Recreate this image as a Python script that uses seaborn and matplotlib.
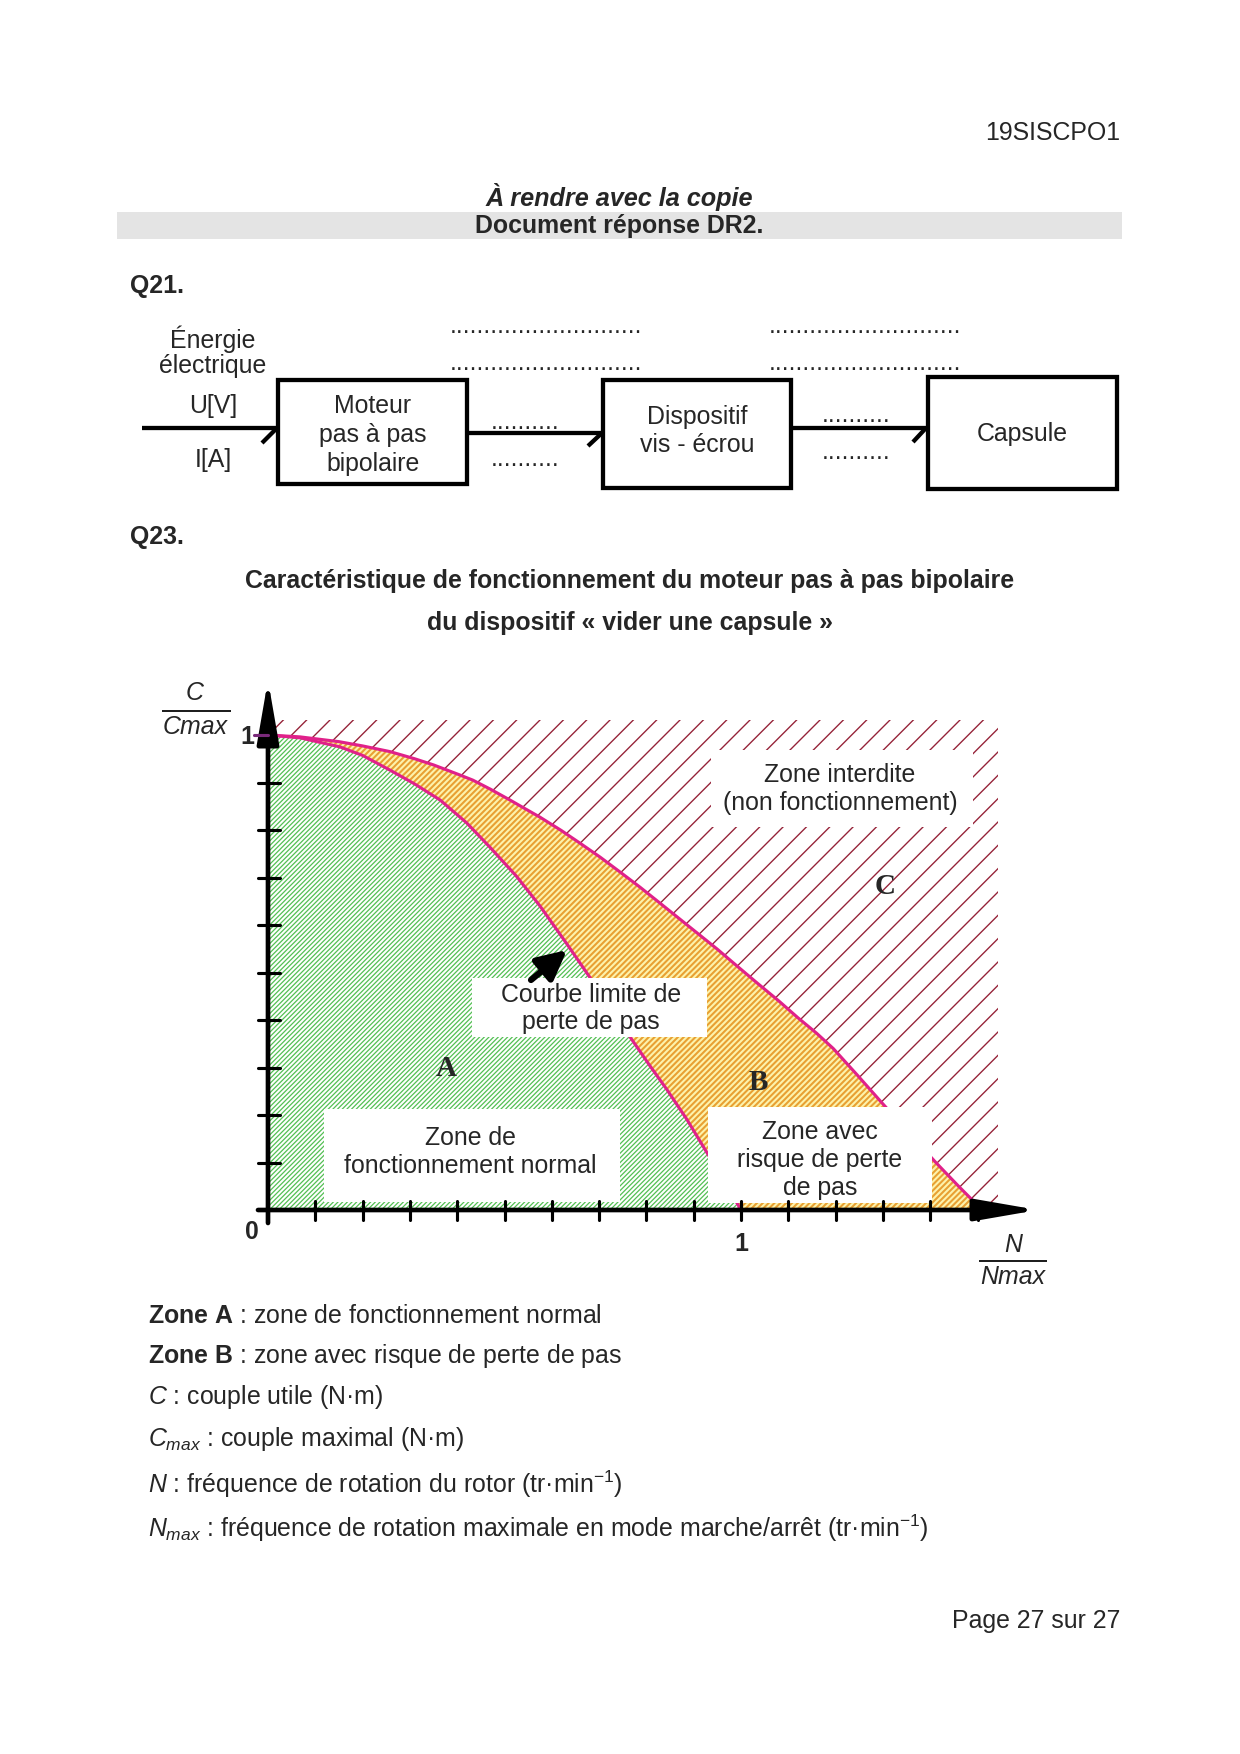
import numpy as np
import matplotlib
matplotlib.use('Agg')
import matplotlib.pyplot as plt
import seaborn as sns
from matplotlib.patches import Rectangle, Polygon
from matplotlib.lines import Line2D

# courbe limite exterieure (frontiere zone B / zone C)  N/Nmax , C/Cmax
n_outer = [0.0, 0.068, 0.15, 0.2, 0.258, 0.31, 0.35, 0.40, 0.433, 0.47, 0.51, 0.545,
           0.575, 0.62, 0.66, 0.702, 0.745, 0.786, 0.825, 0.865, 0.91, 0.95, 0.99,
           1.034, 1.08, 1.12, 1.16, 1.195, 1.245, 1.294, 1.33, 1.36, 1.41, 1.46, 1.51]
c_outer = [1.0, 0.996, 0.986, 0.977, 0.965, 0.95, 0.937, 0.918, 0.905, 0.886, 0.864,
           0.844, 0.827, 0.799, 0.772, 0.743, 0.711, 0.68, 0.649, 0.617, 0.581, 0.549,
           0.515, 0.478, 0.440, 0.405, 0.372, 0.340, 0.285, 0.230, 0.190, 0.157, 0.102,
           0.050, 0.0]

# courbe limite de perte de pas (frontiere zone A / zone B)
n_inner = [0.0, 0.068, 0.152, 0.2, 0.258, 0.31, 0.364, 0.42, 0.469, 0.525, 0.575,
           0.632, 0.681, 0.725, 0.765, 0.805, 0.843, 0.886, 0.926, 0.963, 1.0]
c_inner = [1.0, 0.994, 0.975, 0.957, 0.926, 0.897, 0.863, 0.815, 0.764, 0.703, 0.640,
           0.560, 0.489, 0.424, 0.365, 0.307, 0.254, 0.190, 0.124, 0.064, 0.0]

# limites de la zone interdite hachuree
zone_n_max = 1.543
zone_c_max = 1.032

x_ticks = [0.1, 0.2, 0.3, 0.4, 0.5, 0.6, 0.7, 0.8, 0.9, 1.0, 1.1, 1.2, 1.3, 1.4, 1.5]
y_ticks = [0.1, 0.2, 0.3, 0.4, 0.5, 0.6, 0.7, 0.8, 0.9]

legend_lines = [
    r'$\mathbf{Zone\ A}$ : zone de fonctionnement normal',
    r'$\mathbf{Zone\ B}$ : zone avec risque de perte de pas',
    r'$C$ : couple utile (N·m)',
    r'$C_{max}$ : couple maximal (N·m)',
    r'$N$ : fréquence de rotation du rotor (tr·min$^{-1}$)',
    r'$N_{max}$ : fréquence de rotation maximale en mode marche/arrêt (tr·min$^{-1}$)',
]

sns.set_style('white')
plt.rcParams['font.family'] = ['Liberation Sans', 'DejaVu Sans']
plt.rcParams['mathtext.fontset'] = 'custom'
plt.rcParams['mathtext.rm'] = 'Liberation Sans'
plt.rcParams['mathtext.it'] = 'Liberation Sans:italic'
plt.rcParams['mathtext.bf'] = 'Liberation Sans:bold'

FS = 12.8
W, H, DPI = 1240, 1754, 140
fig = plt.figure(figsize=(W / DPI, H / DPI), dpi=DPI)
fig.patch.set_facecolor('white')


def fx(px):
    return px / W


def fy(py):
    return 1 - py / H


def ftext(x, y, s, size=FS, ha='center', va='center', **kw):
    fig.text(fx(x), fy(y), s, fontsize=size, ha=ha, va=va, **kw)


def fline(xs, ys, lw=2.2, color='black'):
    fig.add_artist(Line2D([fx(v) for v in xs], [fy(v) for v in ys],
                          transform=fig.transFigure, lw=lw, color=color,
                          solid_capstyle='butt'))


def fbox(x0, y0, x1, y1, lw=2.2, fc='none', ec='black'):
    fig.add_artist(Rectangle((fx(x0), fy(y1)), fx(x1) - fx(x0), fy(y0) - fy(y1),
                             transform=fig.transFigure, lw=lw, fc=fc, ec=ec))


# en-tete
ftext(1120, 133, '19SISCPO1', ha='right')
ftext(619, 197, 'À rendre avec la copie', size=13, weight='bold', style='italic')
fbox(117, 212, 1122, 239, lw=0, fc='#e4e4e4', ec='none')
ftext(619, 226, 'Document réponse DR2.', weight='bold')
ftext(130, 286, 'Q21.', weight='bold', ha='left')

# chaine d'energie Q21
ftext(213, 339, 'Énergie')
ftext(213, 366, 'électrique')
ftext(213, 406, 'U[V]')
ftext(213, 460, 'I[A]')
fline([142, 277], [428, 428])
fline([262, 277], [443, 428])
fbox(278, 380, 467, 484)
for yy, s in zip([406, 435, 464], ['Moteur', 'pas à pas', 'bipolaire']):
    ftext(373, yy, s)
fline([467, 603], [433, 433])
fline([588, 603], [446, 432])
fbox(603, 380, 791, 488)
ftext(697, 417, 'Dispositif')
ftext(697, 445, 'vis - écrou')
fline([791, 926], [428, 428])
fline([913, 926], [442, 428])
fbox(928, 377, 1117, 489)
ftext(1022, 434, 'Capsule')
for xx in [450, 769]:
    ftext(xx, 333, '.' * 28, ha='left', va='baseline')
    ftext(xx, 370, '.' * 28, ha='left', va='baseline')
ftext(491, 429, '.' * 10, ha='left', va='baseline')
ftext(491, 466, '.' * 10, ha='left', va='baseline')
ftext(822, 422, '.' * 10, ha='left', va='baseline')
ftext(822, 459, '.' * 10, ha='left', va='baseline')

# Q23 titre
ftext(130, 537, 'Q23.', weight='bold', ha='left')
ftext(630, 581, 'Caractéristique de fonctionnement du moteur pas à pas bipolaire',
      weight='bold')
ftext(630, 623, 'du dispositif « vider une capsule »', weight='bold')

# axes du graphique : origine (268,1210), N=1 -> 741 px, C=1 -> 735 px
X0, Y0, SX, SY = 268, 1210, 473, 475
xlim = (-0.3, 1.75)
ylim = (-0.2, 1.25)
left = X0 + SX * xlim[0]
right = X0 + SX * xlim[1]
bottom = Y0 - SY * ylim[0]
top = Y0 - SY * ylim[1]
ax = fig.add_axes([fx(left), fy(bottom), fx(right) - fx(left), (bottom - top) / H])
ax.set_xlim(*xlim)
ax.set_ylim(*ylim)
ax.axis('off')


def dn(px):
    return (px - X0) / SX


def dc(py):
    return (Y0 - py) / SY


def hatched(xs, ys, hatch, fc, ec, hlw, z):
    with plt.rc_context({'hatch.linewidth': hlw}):
        p = Polygon(np.column_stack([xs, ys]), closed=True, fc=fc, ec=ec, lw=0,
                    hatch=hatch, zorder=z)
        if hasattr(p, 'set_hatch_linewidth'):
            p.set_hatch_linewidth(hlw)
        ax.add_patch(p)


# zone C (interdite)
hatched([0, zone_n_max, zone_n_max, 0], [0, 0, zone_c_max, zone_c_max],
        '//', 'white', '#952238', 0.7, 1)
# zone B (risque de perte de pas)
hatched(n_outer + n_inner[::-1], c_outer + c_inner[::-1],
        '/' * 8, '#fdf3ac', '#e8a032', 1.05, 2)
# zone A (fonctionnement normal)
hatched(n_inner + [0.0], c_inner + [0.0], '/' * 10, 'white', '#55c055', 0.65, 3)

sns.lineplot(x=n_outer, y=c_outer, ax=ax, color='#e0218a', lw=1.6, sort=False,
             estimator=None, zorder=4)
sns.lineplot(x=n_inner, y=c_inner, ax=ax, color='#e0218a', lw=1.6, sort=False,
             estimator=None, zorder=4)


def wbox(x0, y0, x1, y1):
    ax.add_patch(Rectangle((dn(x0), dc(y1)), dn(x1) - dn(x0), dc(y0) - dc(y1),
                           fc='white', ec='none', zorder=5))


wbox(711, 750, 973, 827)
wbox(472, 978, 707, 1037)
wbox(324, 1109, 620, 1202)
wbox(708, 1107, 932, 1203)


def dtext(x, y, s, size=FS, **kw):
    ax.text(dn(x), dc(y), s, fontsize=size, ha='center', va='center', zorder=6, **kw)


dtext(840, 775, 'Zone interdite')
dtext(840, 803, '(non fonctionnement)')
dtext(591, 995, 'Courbe limite de')
dtext(591, 1022, 'perte de pas')
dtext(470, 1138, 'Zone de')
dtext(470, 1166, 'fonctionnement normal')
dtext(820, 1132, 'Zone avec')
dtext(820, 1160, 'risque de perte')
dtext(820, 1188, 'de pas')
serif = dict(family=['Liberation Serif', 'DejaVu Serif'], weight='bold')
dtext(446, 1068, 'A', size=15, **serif)
dtext(758, 1083, 'B', size=15, **serif)
dtext(885, 887, 'C', size=15, **serif)

ax.annotate('', xy=(dn(567), dc(950)), xytext=(dn(531), dc(980)),
            arrowprops=dict(arrowstyle='-|>,head_length=0.9,head_width=0.45',
                            lw=3.2, color='black', mutation_scale=14,
                            shrinkA=0, shrinkB=0), zorder=6)

# axes fleches
ax.annotate('', xy=(0, dc(680)), xytext=(0, dc(1223)),
            arrowprops=dict(arrowstyle='-|>,head_length=1.5,head_width=0.26',
                            lw=2.4, color='black', mutation_scale=18,
                            shrinkA=0, shrinkB=0), zorder=7)
ax.annotate('', xy=(dn(1038), 0), xytext=(dn(258), 0),
            arrowprops=dict(arrowstyle='-|>,head_length=1.5,head_width=0.26',
                            lw=2.4, color='black', mutation_scale=18,
                            shrinkA=0, shrinkB=0), zorder=7)
for t in x_ticks:
    ax.plot([t, t], [-0.02, 0.02], color='black', lw=1.6, zorder=7)
for t in y_ticks:
    ax.plot([-0.021, 0.025], [t, t], color='black', lw=1.6, zorder=7)
ax.plot([-0.03, 0], [1, 1], color='#7a2a7a', lw=1.6, zorder=7)

# libelles des axes
ftext(247, 737, '1', weight='bold')
ftext(252, 1232, '0', weight='bold')
ftext(741, 1244, '1', weight='bold')
ftext(195, 693, 'C', style='italic')
fline([162, 231], [711, 711], lw=0.9)
ftext(195, 727, 'Cmax', style='italic')
ftext(1013, 1245, 'N', style='italic')
fline([979, 1047], [1261, 1261], lw=0.9)
ftext(1013, 1277, 'Nmax', style='italic')

# legende
for yy, s in zip([1316, 1356, 1397, 1439, 1484, 1528], legend_lines):
    ftext(148, yy, s, ha='left')

ftext(1120, 1621, 'Page 27 sur 27', ha='right')

plt.savefig('out.png', dpi=DPI, facecolor='white')
